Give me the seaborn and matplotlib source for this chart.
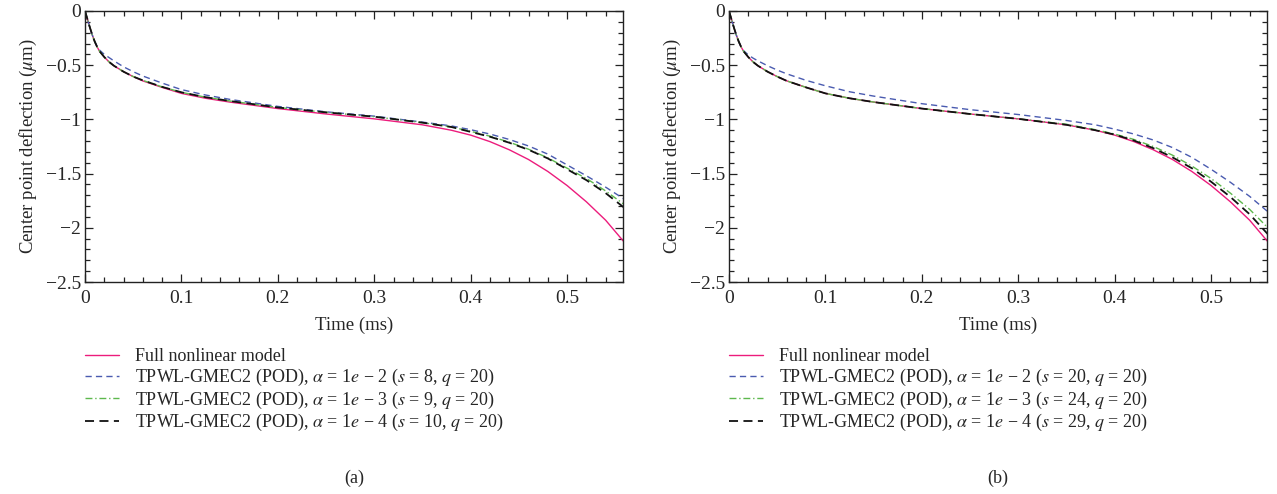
import numpy as np
import pandas as pd
import matplotlib
matplotlib.use("Agg")
import matplotlib.pyplot as plt
import seaborn as sns
from matplotlib.ticker import MultipleLocator

# ---------------- data ----------------
time_ms = [0, 0.0025, 0.005, 0.0075, 0.01, 0.0125, 0.015, 0.02, 0.025, 0.03,
           0.04, 0.05, 0.06, 0.08, 0.1, 0.125, 0.15, 0.2, 0.25, 0.3, 0.35,
           0.38, 0.4, 0.42, 0.44, 0.46, 0.48, 0.5, 0.52, 0.54, 0.56]

full_model = [0, -0.075, -0.15, -0.22, -0.28, -0.33, -0.37, -0.425, -0.47, -0.505,
              -0.56, -0.605, -0.645, -0.705, -0.76, -0.805, -0.84, -0.90, -0.95,
              -0.995, -1.05, -1.10, -1.145, -1.205, -1.28, -1.37, -1.48, -1.61,
              -1.76, -1.93, -2.14]

# panel (a)
a_alpha2 = [0, -0.075, -0.15, -0.22, -0.28, -0.325, -0.36, -0.40, -0.43, -0.46,
            -0.515, -0.56, -0.60, -0.665, -0.725, -0.775, -0.815, -0.88, -0.93,
            -0.97, -1.025, -1.06, -1.095, -1.135, -1.185, -1.245, -1.32, -1.42,
            -1.52, -1.625, -1.74]
a_alpha3 = [0, -0.075, -0.15, -0.22, -0.28, -0.33, -0.37, -0.425, -0.47, -0.505,
            -0.56, -0.605, -0.64, -0.70, -0.75, -0.795, -0.83, -0.89, -0.935,
            -0.975, -1.03, -1.07, -1.11, -1.155, -1.21, -1.275, -1.355, -1.45,
            -1.545, -1.66, -1.79]
a_alpha4 = [0, -0.075, -0.15, -0.22, -0.28, -0.33, -0.37, -0.425, -0.47, -0.505,
            -0.56, -0.605, -0.64, -0.70, -0.75, -0.795, -0.83, -0.89, -0.935,
            -0.975, -1.03, -1.07, -1.115, -1.16, -1.215, -1.28, -1.36, -1.46,
            -1.56, -1.68, -1.82]

# panel (b)
b_alpha2 = [0, -0.075, -0.15, -0.22, -0.28, -0.33, -0.365, -0.405, -0.435, -0.46,
            -0.505, -0.545, -0.58, -0.64, -0.69, -0.745, -0.785, -0.855, -0.91,
            -0.955, -1.01, -1.05, -1.09, -1.135, -1.19, -1.26, -1.35, -1.46,
            -1.58, -1.71, -1.86]
b_alpha3 = [0, -0.075, -0.15, -0.22, -0.28, -0.33, -0.37, -0.425, -0.47, -0.505,
            -0.56, -0.605, -0.645, -0.705, -0.76, -0.805, -0.84, -0.90, -0.95,
            -0.995, -1.045, -1.095, -1.135, -1.185, -1.25, -1.33, -1.43, -1.545,
            -1.68, -1.83, -2.01]
b_alpha4 = [0, -0.075, -0.15, -0.22, -0.28, -0.33, -0.37, -0.425, -0.47, -0.505,
            -0.56, -0.605, -0.645, -0.705, -0.76, -0.805, -0.84, -0.90, -0.95,
            -0.995, -1.05, -1.10, -1.14, -1.195, -1.265, -1.35, -1.45, -1.575,
            -1.715, -1.875, -2.07]

a_params = ["8", "9", "10"]
b_params = ["20", "24", "29"]
alphas = ["2", "3", "4"]

x_ticks = [0, 0.1, 0.2, 0.3, 0.4, 0.5]
x_tick_labels = ["0", "0.1", "0.2", "0.3", "0.4", "0.5"]
y_ticks = [0, -0.5, -1, -1.5, -2, -2.5]
y_tick_labels = ["0", "\u22120.5", "\u22121", "\u22121.5", "\u22122", "\u22122.5"]

captions = ["(a)", "(b)"]

# ---------------- style ----------------
sns.set_style("ticks")
plt.rcParams["font.family"] = ["Liberation Serif", "DejaVu Serif"]
plt.rcParams["mathtext.fontset"] = "stix"
FS_TICK = 14
FS_LAB = 13.5
FS_LEG = 13

W, H = 1277, 494
fig = plt.figure(figsize=(W / 100, H / 100), dpi=100)

axes_px = [(85, 623), (729, 1267)]
top_px, bot_px = 11, 282

styles = [
    dict(color="#EC1C7C", lw=1.0, ls="-"),
    dict(color="#4A5BB0", lw=1.0, ls=(0, (4.5, 3))),
    dict(color="#5DB84D", lw=1.0, ls=(0, (5, 2, 1, 2))),
    dict(color="#111111", lw=1.3, ls=(0, (5, 3))),
]

panels = [
    (a_alpha2, a_alpha3, a_alpha4, a_params),
    (b_alpha2, b_alpha3, b_alpha4, b_params),
]

for i, ((l, r), (s2, s3, s4, params)) in enumerate(zip(axes_px, panels)):
    ax = fig.add_axes([l / W, 1 - bot_px / H, (r - l) / W, (bot_px - top_px) / H])
    series = [full_model, s2, s3, s4]
    labels = ["Full nonlinear model"] + [
        "TPWL-GMEC2 (POD), $\\alpha$ = 1$e$ \u2212 %s ($s$ = %s, $q$ = 20)" % (a, p)
        for a, p in zip(alphas, params)
    ]
    for vals, lab, st in zip(series, labels, styles):
        df = pd.DataFrame({"t": time_ms, "v": vals})
        sns.lineplot(data=df, x="t", y="v", ax=ax, label=lab, color=st["color"],
                     linewidth=st["lw"], linestyle=st["ls"], estimator=None,
                     sort=False)
    ax.set_xlim(0, 0.558)
    ax.set_ylim(-2.5, 0)
    ax.set_xticks(x_ticks)
    ax.set_xticklabels(x_tick_labels)
    ax.set_yticks(y_ticks)
    ax.set_yticklabels(y_tick_labels)
    ax.xaxis.set_minor_locator(MultipleLocator(0.02))
    ax.yaxis.set_minor_locator(MultipleLocator(0.1))
    ax.tick_params(which="both", direction="in", top=True, right=True,
                   labelsize=FS_TICK, color="#222222", width=0.9)
    ax.tick_params(which="major", length=6)
    ax.tick_params(axis="x", which="major", pad=6)
    ax.tick_params(axis="y", which="major", pad=3)
    ax.tick_params(which="minor", length=3.5)
    for sp in ax.spines.values():
        sp.set_visible(True)
        sp.set_linewidth(1.0)
        sp.set_color("#222222")
    ax.set_xlabel("Time (ms)", fontsize=FS_LAB, labelpad=7)
    ax.set_ylabel("Center point deflection ($\\mu$m)", fontsize=FS_LAB, labelpad=5)
    leg = ax.legend(loc="upper left", bbox_to_anchor=(0.0, -0.245), frameon=False,
                    fontsize=FS_LEG, handlelength=1.9, handletextpad=0.85,
                    labelspacing=0.08, borderpad=0, borderaxespad=0)
    fig.text((l + r) / 2 / W, 1 - 478 / H, captions[i], ha="center", va="center",
             fontsize=FS_LEG)

fig.savefig("out.png", dpi=100)
